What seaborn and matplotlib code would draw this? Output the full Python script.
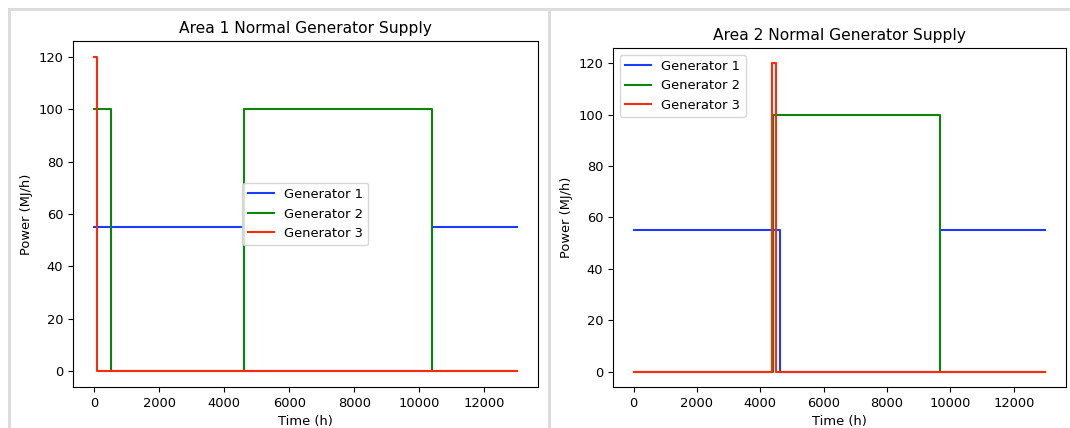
import matplotlib
matplotlib.use("Agg")
import matplotlib.pyplot as plt
import seaborn as sns
from matplotlib.lines import Line2D

# change points (time in h) and power levels after each change (steps-post)
area1_gen1_t = [0, 4600, 10400, 13000]
area1_gen1_p = [55, 0, 55, 55]
area1_gen2_t = [0, 530, 4600, 10400, 13000]
area1_gen2_p = [100, 0, 100, 0, 0]
area1_gen3_t = [0, 100, 13000]
area1_gen3_p = [120, 0, 0]

area2_gen1_t = [0, 4620, 9670, 13000]
area2_gen1_p = [55, 0, 55, 55]
area2_gen2_t = [0, 4390, 9670, 13000]
area2_gen2_p = [0, 100, 0, 0]
area2_gen3_t = [0, 4370, 4500, 13000]
area2_gen3_p = [0, 120, 0, 0]

labels = ['Generator 1', 'Generator 2', 'Generator 3']
colors = ['#1a3cff', '#0a870a', '#ff2a0a']

plt.rcParams['font.size'] = 9.4


def draw_panel(ax, series, title, legend_loc):
    for (t, p), lab, col in zip(series, labels, colors):
        sns.lineplot(x=t, y=p, ax=ax, label=lab, color=col, linewidth=1.5,
                     drawstyle='steps-post', sort=False, estimator=None)
    ax.set_title(title, fontsize=11.2)
    ax.set_xlabel('Time (h)', fontsize=9.4)
    ax.set_ylabel('Power (MJ/h)', fontsize=9.4)
    ax.set_xticks([0, 2000, 4000, 6000, 8000, 10000, 12000])
    ax.set_yticks([0, 20, 40, 60, 80, 100, 120])
    ax.tick_params(labelsize=9.4)
    ax.legend(loc=legend_loc, fontsize=9.4)


fig = plt.figure(figsize=(10.7, 4.28), dpi=100)

ax1 = fig.add_axes([0.0682, 0.0958, 0.4346, 0.8084])
draw_panel(ax1,
           [(area1_gen1_t, area1_gen1_p), (area1_gen2_t, area1_gen2_p), (area1_gen3_t, area1_gen3_p)],
           'Area 1 Normal Generator Supply', 'center')

ax2 = fig.add_axes([0.5729, 0.0958, 0.4234, 0.7921])
draw_panel(ax2,
           [(area2_gen1_t, area2_gen1_p), (area2_gen2_t, area2_gen2_p), (area2_gen3_t, area2_gen3_p)],
           'Area 2 Normal Generator Supply', 'upper left')

# light gray screenshot frames around the two panels
gray = '#dcdcdc'
W, H = 1070, 428
fig.add_artist(Line2D([9 / W, 1], [1 - 9 / H, 1 - 9 / H], color=gray, lw=2.2))
fig.add_artist(Line2D([9 / W, 9 / W], [0, 1 - 9 / H], color=gray, lw=2.2))
fig.add_artist(Line2D([549 / W, 549 / W], [0, 1 - 9 / H], color=gray, lw=2.2))

fig.savefig('out.png', dpi=100)
